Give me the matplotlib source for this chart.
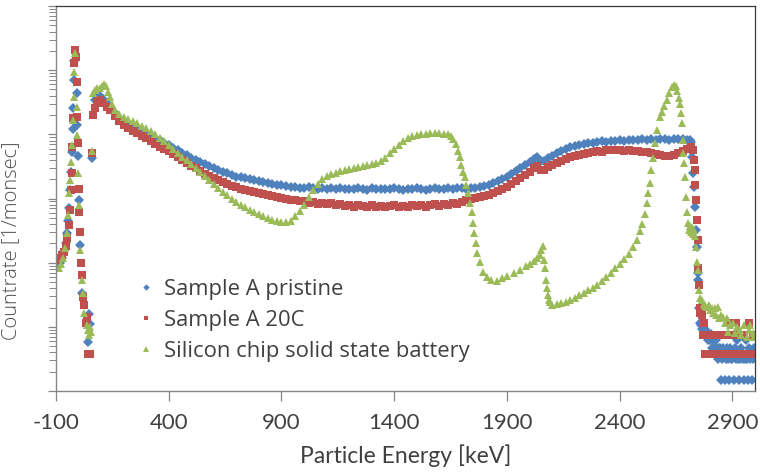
import matplotlib
matplotlib.use("Agg")
import matplotlib.pyplot as plt

# energy [keV] / count rate [1/monsec] for each sample
energy_pristine = [
    -91, -82, -73, -64, -56, -51, -46, -42, -37, -33, -29, -25, -23, -20, -18,
    -8, -5, -2, 2, 6, 15, 42, 46, 51, 60,
    73, 82, 95, 110, 125, 140, 160, 180, 200, 220, 240, 260, 280, 300, 320, 340,
    360, 380, 400, 420, 440, 460, 480, 500, 520, 540, 560, 580, 600, 620, 640,
    660, 680, 700, 720, 740, 760, 780, 800, 820, 840, 860, 880, 900, 920, 940,
    960, 980, 1000, 1020, 1040, 1060, 1080, 1100, 1120, 1140, 1160, 1180, 1200,
    1220, 1240, 1260, 1280, 1300, 1320, 1340, 1360, 1380, 1400, 1420, 1440,
    1460, 1480, 1500, 1520, 1540, 1560, 1580, 1600, 1620, 1640, 1660, 1680,
    1700, 1720, 1740, 1760, 1780, 1800, 1820, 1840, 1860, 1880, 1900, 1920,
    1940, 1960, 1980, 2000, 2020, 2035, 2050, 2065, 2080, 2100, 2120, 2140,
    2160, 2180, 2200, 2220, 2240, 2260, 2280, 2300, 2320, 2340, 2360, 2380,
    2400, 2420, 2440, 2460, 2480, 2500, 2520, 2540, 2560, 2580, 2600, 2620,
    2640, 2660, 2680, 2700, 2712, 2718, 2722, 2726, 2730, 2734, 2738, 2741,
    2745, 2748, 2752, 2756,
    2760, 2765, 2770, 2775, 2780, 2785, 2790, 2795, 2800, 2805, 2810, 2815,
    2820, 2825, 2830, 2835, 2840, 2845, 2850, 2855, 2860, 2865, 2870, 2875,
    2880, 2885, 2890, 2895, 2900, 2905, 2910, 2915, 2920, 2925, 2930, 2935,
    2940, 2945, 2950, 2955, 2960, 2965, 2970, 2975, 2980, 2985, 2990, 2995,
]
rate_pristine = [
    0.091, 0.10, 0.12, 0.15, 0.20, 0.29, 0.45, 0.71, 1.35, 2.6, 5.3, 12, 26, 70, 140,
    44, 14, 4.6, 0.94, 0.19, 0.034, 0.0058, 0.016, 0.011, 4.3,
    34, 38, 39, 35, 31, 26.5, 21.4, 17.9, 15.5, 13.9, 12.5, 11.6, 10.8, 10.1, 9.4, 8.7,
    8.1, 7.3, 6.8, 6.1, 5.7, 5.1, 4.7, 4.3, 4.0, 3.7, 3.4, 3.2, 3.0, 2.8, 2.6,
    2.5, 2.3, 2.2, 2.15, 2.08, 2.0, 1.94, 1.87, 1.80, 1.74, 1.68, 1.62, 1.60, 1.55, 1.50,
    1.53, 1.47, 1.45, 1.49, 1.44, 1.42, 1.46, 1.41, 1.44, 1.40, 1.45, 1.39, 1.43,
    1.40, 1.46, 1.41, 1.38, 1.44, 1.40, 1.43, 1.39, 1.42, 1.45, 1.40, 1.37,
    1.43, 1.40, 1.44, 1.41, 1.38, 1.42, 1.45, 1.40, 1.43, 1.46, 1.41, 1.44,
    1.47, 1.43, 1.48, 1.46, 1.51, 1.56, 1.62, 1.74, 1.87, 2.0, 2.15, 2.4,
    2.67, 3.0, 3.3, 3.7, 4.1, 4.4, 3.8, 3.8, 4.3, 4.6, 5.1, 5.5,
    5.9, 6.3, 6.55, 6.8, 7.0, 7.3, 7.3, 7.6, 7.8, 7.7, 8.0, 7.9,
    8.1, 8.0, 8.3, 8.1, 8.2, 8.4, 8.3, 8.4, 8.2, 8.5, 8.4, 8.3,
    8.5, 8.4, 8.6, 8.3, 8.1, 7.6, 4.4, 2.5, 1.5, 0.74, 0.32, 0.175,
    0.069, 0.054, 0.020, 0.0115,
    0.0108, 0.0092, 0.0108, 0.0077, 0.0092, 0.0077, 0.0062, 0.0077, 0.0062, 0.0077, 0.0046, 0.0062,
    0.0046, 0.0062, 0.0046, 0.0031, 0.0046, 0.0046, 0.0015, 0.0031, 0.0046, 0.0015, 0.0031, 0.0046,
    0.0031, 0.0015, 0.0046, 0.0031, 0.0031, 0.0015, 0.0046, 0.0031, 0.0062, 0.0031, 0.0015, 0.0031,
    0.0046, 0.0031, 0.0015, 0.0031, 0.0062, 0.0031, 0.0015, 0.0046, 0.0031, 0.0015, 0.0031, 0.0046,
]

energy_20c = [
    -91, -82, -73, -64, -56, -49, -44, -40, -35, -31, -28, -25, -21, -16, -11,
    -7, -5, -2, 2, 4, 6, 11, 15, 20, 24, 33, 37, 44, 49, 60,
    64, 73, 82, 95, 110, 125, 140, 160, 180, 200, 220, 240, 260, 280, 300, 320,
    340, 360, 380, 400, 420, 440, 460, 480, 500, 520, 540, 560, 580, 600, 620,
    640, 660, 680, 700, 720, 740, 760, 780, 800, 820, 840, 860, 880, 900, 920,
    940, 960, 980, 1000, 1020, 1040, 1060, 1080, 1100, 1120, 1140, 1160, 1180,
    1200, 1220, 1240, 1260, 1280, 1300, 1320, 1340, 1360, 1380, 1400, 1420,
    1440, 1460, 1480, 1500, 1520, 1540, 1560, 1580, 1600, 1620, 1640, 1660,
    1680, 1700, 1720, 1740, 1760, 1780, 1800, 1820, 1840, 1860, 1880, 1900,
    1920, 1940, 1960, 1980, 2000, 2020, 2035, 2050, 2065, 2080, 2100, 2120,
    2140, 2160, 2180, 2200, 2220, 2240, 2260, 2280, 2300, 2320, 2340, 2360,
    2380, 2400, 2420, 2440, 2460, 2480, 2500, 2520, 2540, 2560, 2580, 2600,
    2620, 2640, 2660, 2680, 2700, 2715, 2725, 2728, 2732, 2736, 2739, 2742,
    2746, 2749, 2752, 2755, 2758,
    2762, 2766, 2770, 2774, 2778, 2782, 2786, 2790, 2795, 2800, 2805, 2810,
    2815, 2820, 2825, 2830, 2835, 2840, 2845, 2850, 2855, 2860, 2865, 2870,
    2875, 2880, 2885, 2890, 2895, 2900, 2905, 2910, 2915, 2920, 2925, 2930,
    2935, 2940, 2945, 2950, 2955, 2960, 2965, 2970, 2975, 2980, 2985, 2990, 2995,
]
rate_20c = [
    0.11, 0.118, 0.131, 0.146, 0.18, 0.24, 0.385, 0.66, 1.35, 2.5, 6.3, 17.9, 129, 205, 159,
    65, 18.5, 7.3, 1.4, 0.61, 0.30, 0.099, 0.064, 0.029, 0.022, 0.0115, 0.0142, 0.0038, 0.0038, 5.1,
    19.9, 25.6, 31.7, 34, 30.6, 26.5, 23.8, 19.2, 16.1, 13.9, 12.5, 11.2, 10.4, 9.4, 8.7, 7.8,
    7.0, 6.3, 5.9, 5.5, 4.9, 4.4, 4.0, 3.56, 3.2, 3.0, 2.67, 2.4, 2.23, 2.08, 1.94,
    1.80, 1.68, 1.56, 1.51, 1.40, 1.35, 1.30, 1.26, 1.21, 1.17, 1.13, 1.09, 1.05, 1.01, 0.98,
    0.94, 0.95, 0.91, 0.90, 0.86, 0.88, 0.83, 0.86, 0.81, 0.84, 0.79, 0.82, 0.77,
    0.80, 0.75, 0.79, 0.76, 0.73, 0.78, 0.75, 0.77, 0.73, 0.76, 0.79, 0.74,
    0.77, 0.75, 0.80, 0.76, 0.78, 0.74, 0.79, 0.81, 0.77, 0.83, 0.80, 0.85,
    0.82, 0.88, 0.94, 0.98, 1.01, 1.05, 1.09, 1.13, 1.21, 1.30, 1.40, 1.51,
    1.68, 1.87, 2.08, 2.32, 2.58, 2.98, 3.2, 2.77, 2.77, 3.08, 3.31, 3.56,
    3.82, 4.11, 4.41, 4.58, 4.74, 4.92, 5.10, 5.28, 5.47, 5.4, 5.68, 5.6,
    5.7, 5.68, 5.47, 5.6, 5.45, 5.5, 5.28, 5.3, 5.10, 4.92, 4.74, 4.58,
    4.6, 4.74, 5.10, 5.47, 5.88, 6.3, 5.7, 3.96, 2.77, 1.62, 0.94, 0.46,
    0.225, 0.082, 0.045, 0.020, 0.0164,
    0.0188, 0.0151, 0.0075, 0.0113, 0.0038, 0.0075, 0.0038, 0.0075, 0.0038, 0.0075, 0.0075, 0.0038,
    0.0075, 0.0038, 0.0075, 0.0075, 0.0038, 0.0075, 0.0038, 0.0075, 0.0038, 0.0075, 0.0038, 0.0075,
    0.0038, 0.0075, 0.0038, 0.0113, 0.0038, 0.0038, 0.0075, 0.0038, 0.0113, 0.0038, 0.0038, 0.0075,
    0.0038, 0.0038, 0.0038, 0.0075, 0.0038, 0.0038, 0.0038, 0.0038, 0.0113, 0.0038, 0.0038, 0.0075, 0.0038,
]

energy_chip = [
    -87, -78, -69, -60, -51, -47, -42, -38, -33, -29, -26, -22, -18, -15,
    -9, -6, -2, 2, 6, 15, 18, 24, 37, 42, 46, 51, 55, 60,
    64, 73, 82, 95, 105, 115, 122, 130, 140, 150, 160, 180, 200, 220, 240, 260,
    280, 300, 320, 340, 360, 380, 400, 420, 440, 460, 480, 500, 520, 540, 560,
    580, 600, 620, 640, 660, 680, 700, 720, 740, 760, 780, 800, 820, 840, 860,
    880, 900, 920, 940, 960, 980, 1000, 1020, 1040, 1060, 1080, 1100, 1120,
    1140, 1160, 1180, 1200, 1220, 1240, 1260, 1280, 1300, 1320, 1340, 1360,
    1380, 1400, 1420, 1440, 1460, 1480, 1500, 1520, 1540, 1560, 1580, 1600,
    1620, 1640, 1650, 1660, 1672, 1682, 1690, 1698, 1706, 1713, 1720, 1726,
    1735, 1744, 1750, 1756, 1762, 1767, 1780, 1795, 1811, 1830, 1855, 1880,
    1900, 1930, 1957, 1985, 2000, 2020, 2035, 2046, 2053, 2059, 2064, 2068,
    2073, 2077, 2081, 2086, 2090, 2100, 2120, 2140, 2160, 2180, 2200, 2220,
    2240, 2260, 2280, 2300, 2320, 2340, 2360, 2380, 2400, 2420, 2440, 2460,
    2475, 2490, 2500, 2510, 2520, 2527, 2533, 2540, 2546, 2555, 2564, 2577,
    2587, 2598, 2609, 2620, 2631, 2640, 2648, 2655, 2662, 2667, 2671, 2676,
    2680, 2682, 2685, 2689, 2693, 2698, 2702, 2707, 2712, 2716, 2720, 2724,
    2729, 2733, 2738, 2742, 2746, 2751, 2756, 2764, 2772, 2780, 2786, 2795,
    2802, 2808, 2815, 2822, 2828, 2835, 2842, 2850, 2857, 2865, 2875, 2882,
    2890, 2901, 2910, 2920, 2932, 2940, 2950, 2963, 2972, 2980, 2990, 2997,
]
rate_chip = [
    0.082, 0.095, 0.118, 0.169, 0.289, 0.551, 1.21, 1.94, 3.69, 6.8, 16.6, 38, 93, 184,
    26.5, 9.7, 2.5, 0.79, 0.157, 0.054, 0.034, 0.0164, 0.0107, 0.0089, 0.0075, 0.0099, 0.0083, 5.5,
    43.8, 48.8, 52.4, 52.4, 56.3, 60.5, 56.3, 45.4, 38, 29.5, 23.8, 20.6, 18.5, 17.3, 16.1, 14.9,
    13.4, 12.5, 11.2, 10.1, 8.7, 7.8, 6.8, 5.9, 5.1, 4.4, 3.96, 3.43, 2.98, 2.58, 2.23,
    1.94, 1.68, 1.45, 1.26, 1.13, 0.98, 0.88, 0.79, 0.735, 0.66, 0.614, 0.571, 0.532, 0.495, 0.461,
    0.445, 0.429, 0.429, 0.445, 0.53, 0.64, 0.79, 1.05, 1.35, 1.68, 2.0, 2.23, 2.4,
    2.49, 2.67, 2.77, 2.87, 2.98, 3.08, 3.2, 3.31, 3.43, 3.56, 3.82, 4.26,
    5.1, 5.88, 6.79, 7.84, 8.73, 9.38, 9.72, 10.1, 10.1, 10.4, 10.4, 10.4,
    10.2, 10.1, 9.4, 8.4, 7.0, 5.5, 4.4, 3.3, 2.6, 2.15, 1.6, 1.21,
    0.85, 0.62, 0.41, 0.29, 0.2, 0.141, 0.103, 0.0714, 0.0597, 0.0536, 0.0517, 0.0576,
    0.0618, 0.0689, 0.0767, 0.088, 0.095, 0.106, 0.118, 0.131, 0.157, 0.181, 0.11, 0.0824,
    0.0536, 0.0402, 0.0313, 0.0261, 0.0243, 0.0219, 0.0227, 0.0235, 0.0243, 0.0261, 0.0281, 0.0313,
    0.0336, 0.0374, 0.0402, 0.0448, 0.0517, 0.0597, 0.0689, 0.0824, 0.095, 0.114, 0.136, 0.175,
    0.225, 0.311, 0.399, 0.571, 0.848, 1.21, 1.74, 2.77, 4.26, 7.29, 11.6, 18.5,
    22.2, 27.5, 34.1, 43.8, 54.4, 58.4, 56.3, 47.1, 36.6, 29.5, 21.4, 14.9,
    8.1, 5.1, 3.56, 2.15, 1.05, 0.614, 0.414, 0.322, 0.372, 0.30, 0.358, 0.279,
    0.322, 0.26, 0.175, 0.102, 0.0767, 0.0374, 0.0281, 0.0261, 0.0227, 0.0211, 0.0203, 0.0219,
    0.0183, 0.0196, 0.0164, 0.0196, 0.0153, 0.0203, 0.0137, 0.0153, 0.0142, 0.0115, 0.0137, 0.0083,
    0.0107, 0.0115, 0.0080, 0.0099, 0.0089, 0.0075, 0.0107, 0.0069, 0.0089, 0.0107, 0.0080, 0.0069,
]

series_names = ["Sample A pristine", "Sample A 20C", "Silicon chip solid state battery"]
x_ticks = [-100, 400, 900, 1400, 1900, 2400, 2900]

blue = "#4F81BD"
red = "#C0504D"
green = "#9BBB59"
text_gray = "#404040"
axis_gray = "#868686"

fig = plt.figure(figsize=(7.6, 4.73), dpi=100)
ax = fig.add_axes([56 / 760, 1 - 391 / 473, 699 / 760, 385 / 473])

ax.plot(energy_pristine, rate_pristine, linestyle="none", marker="D", ms=5.0,
        color=blue, mew=0, label=series_names[0])
ax.plot(energy_20c, rate_20c, linestyle="none", marker="s", ms=5.5,
        color=red, mew=0, label=series_names[1])
ax.plot(energy_chip, rate_chip, linestyle="none", marker="^", ms=5.8,
        color=green, mew=0, label=series_names[2])

ax.set_yscale("log")
ax.set_ylim(1e-3, 1e3)
ax.set_xlim(-100, 3000)
ax.set_xticks(x_ticks)
ax.set_xticklabels([str(t) for t in x_ticks])
ax.yaxis.set_major_formatter(matplotlib.ticker.NullFormatter())
ax.yaxis.set_minor_formatter(matplotlib.ticker.NullFormatter())
ax.yaxis.set_minor_locator(matplotlib.ticker.LogLocator(base=10, subs=range(2, 10), numticks=20))

for side in ["left", "bottom"]:
    ax.spines[side].set_color(axis_gray)
    ax.spines[side].set_linewidth(1.0)
for side in ["top", "right"]:
    ax.spines[side].set_color("#3a3a3a")
    ax.spines[side].set_linewidth(0.9)

ax.tick_params(axis="x", which="major", direction="out", length=7, width=0.9,
               color=axis_gray, labelcolor=text_gray, labelsize=16, pad=9)
ax.tick_params(axis="y", which="major", direction="out", length=6, width=0.9, color=axis_gray)
ax.tick_params(axis="y", which="minor", direction="out", length=5, width=0.7, color=axis_gray)
for lbl in ax.get_xticklabels():
    lbl.set_family("Lato")

ax.set_xlabel("Particle Energy [keV]", family="Lato", fontsize=16.5,
              color=text_gray, labelpad=8)
ax.set_ylabel("Countrate [1/monsec]", family="Open Sans", fontweight="light",
              fontsize=14.5, color="#505050")
ax.yaxis.set_label_coords(-0.05, 0.39)

leg = ax.legend(loc="upper left", bbox_to_anchor=(0.1, 0.32), frameon=False,
                handlelength=0.8, handletextpad=0.45, labelspacing=0.45,
                borderpad=0, markerscale=0.65,
                prop={"family": "Open Sans", "size": 15.8})
for t in leg.get_texts():
    t.set_color("#404040")

fig.savefig("out.png", dpi=100)
